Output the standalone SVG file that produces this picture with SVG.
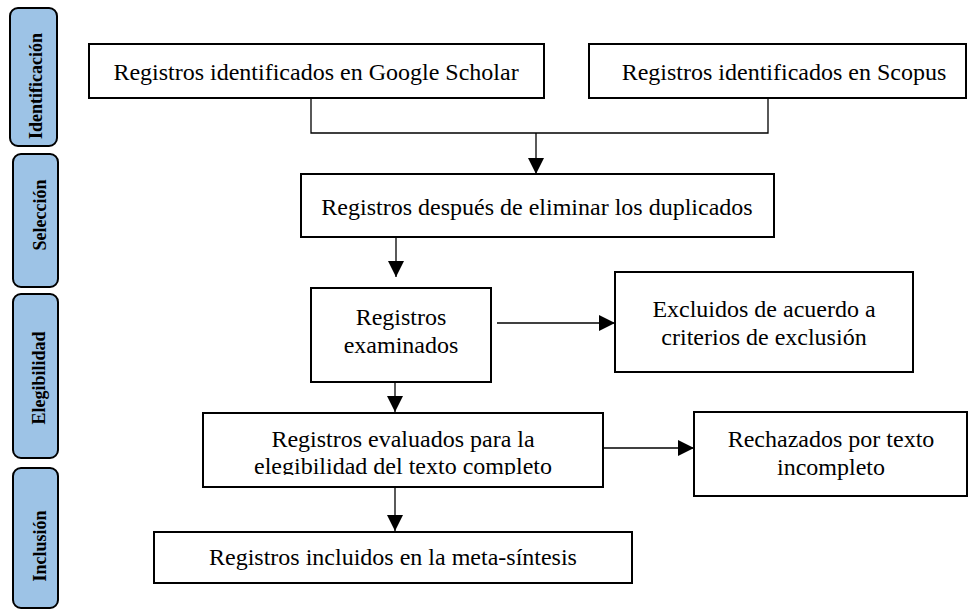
<svg xmlns="http://www.w3.org/2000/svg" width="968" height="610" viewBox="0 0 968 610">
<style>
.box{fill:#fff;stroke:#000;stroke-width:2}
.side{fill:#9dc3e6;stroke:#000;stroke-width:2}
.t{font-family:"Liberation Serif","Times New Roman",serif;font-size:24px;fill:#000;text-anchor:middle}
.s{font-family:"Liberation Serif","Times New Roman",serif;font-size:18px;font-weight:bold;fill:#000;text-anchor:middle}
.c{fill:none;stroke:#000;stroke-width:1.3}
</style>
<defs>
<marker id="ah" viewBox="0 0 10 10" refX="10" refY="5" markerWidth="16" markerHeight="16" markerUnits="userSpaceOnUse" orient="auto">
<path d="M0,0 L10,5 L0,10 Z" fill="#000"/>
</marker>
<clipPath id="clipEval"><rect x="203" y="413" width="400" height="62"/></clipPath>
</defs>
<rect width="968" height="610" fill="#fff"/>
<g id="side-identificacion"><rect class="side" x="10" y="8" width="47" height="138" rx="8"/><text class="s" transform="translate(42,86) rotate(-90)">Identificación</text></g>
<g id="side-seleccion"><rect class="side" x="13" y="154" width="45" height="133" rx="8"/><text class="s" transform="translate(46,215) rotate(-90)">Selección</text></g>
<g id="side-elegibilidad"><rect class="side" x="13" y="294" width="45" height="164" rx="8"/><text class="s" transform="translate(45,378) rotate(-90)">Elegibilidad</text></g>
<g id="side-inclusion"><rect class="side" x="13" y="468" width="45" height="140" rx="8"/><text class="s" transform="translate(46,546) rotate(-90)">Inclusión</text></g>
<g id="connectors">
<path class="c" d="M311,98 V133 H768 V98"/>
<path class="c" d="M536,133 V174" marker-end="url(#ah)"/>
<path class="c" d="M396,238 V277" marker-end="url(#ah)"/>
<path class="c" d="M497,323 H615" marker-end="url(#ah)"/>
<path class="c" d="M395,382 V412" marker-end="url(#ah)"/>
<path class="c" d="M604,448 H694" marker-end="url(#ah)"/>
<path class="c" d="M395,488 V531" marker-end="url(#ah)"/>
</g>
<g id="n-google"><rect class="box" x="89" y="44" width="455" height="54"/><text class="t" x="316" y="80">Registros identificados en Google Scholar</text></g>
<g id="n-scopus"><rect class="box" x="589" y="44" width="377" height="54"/><text class="t" x="784" y="80">Registros identificados en Scopus</text></g>
<g id="n-dup"><rect class="box" x="301" y="174" width="473" height="63"/><text class="t" x="537" y="215">Registros después de eliminar los duplicados</text></g>
<g id="n-exam"><rect class="box" x="311" y="288" width="180" height="94"/><text class="t" x="401" y="325">Registros</text><text class="t" x="401" y="353">examinados</text></g>
<g id="n-excl"><rect class="box" x="615" y="272" width="298" height="100"/><text class="t" x="764" y="317">Excluidos de acuerdo a</text><text class="t" x="764" y="345">criterios de exclusión</text></g>
<g id="n-eval"><rect class="box" x="203" y="413" width="400" height="74"/><g clip-path="url(#clipEval)"><text class="t" x="403" y="447">Registros evaluados para la</text><text class="t" x="403" y="474">elegibilidad del texto completo</text></g></g>
<g id="n-rech"><rect class="box" x="694" y="412" width="273" height="84"/><text class="t" x="831" y="447">Rechazados por texto</text><text class="t" x="831" y="475">incompleto</text></g>
<g id="n-incl"><rect class="box" x="154" y="532" width="478" height="51"/><text class="t" x="393" y="565">Registros incluidos en la meta-síntesis</text></g>
</svg>
